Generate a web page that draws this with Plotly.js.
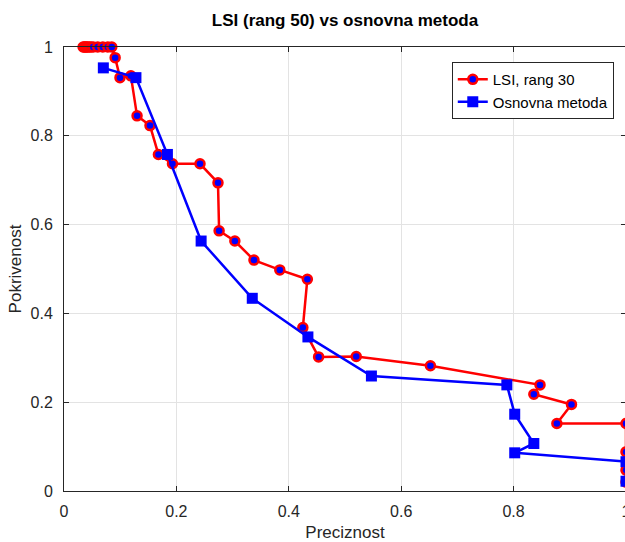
<!DOCTYPE html>
<html>
<head>
<meta charset="utf-8">
<script src="https://cdn.plot.ly/plotly-3.0.1.min.js"></script>
<style>
html, body { margin: 0; padding: 0; overflow: hidden; background: #fff; }
#chart { width: 640px; height: 542px; }
</style>
</head>
<body>
<div id="chart"></div>
<script>
// LSI, rang 30 series
const lsiX = [0.034, 0.036, 0.038, 0.040, 0.042, 0.045, 0.048, 0.052, 0.060, 0.069, 0.078, 0.085, 0.091, 0.0996, 0.119, 0.130, 0.153, 0.168, 0.193, 0.242, 0.274, 0.276, 0.304, 0.338, 0.384, 0.433, 0.425, 0.453, 0.520, 0.652, 0.847, 0.836, 0.903, 0.877, 1.0, 1.0, 1.0, 1.0];
const lsiY = [1, 1, 1, 1, 1, 1, 1, 1, 1, 1, 1, 1, 0.976, 0.931, 0.935, 0.845, 0.823, 0.758, 0.737, 0.737, 0.694, 0.586, 0.563, 0.520, 0.498, 0.477, 0.368, 0.302, 0.303, 0.282, 0.239, 0.218, 0.195, 0.152, 0.152, 0.088, 0.047, 0.020];
// Osnovna metoda series
const baseX = [0.070, 0.128, 0.184, 0.244, 0.335, 0.434, 0.547, 0.788, 0.802, 0.836, 0.802, 1.0, 1.0];
const baseY = [0.953, 0.931, 0.758, 0.563, 0.434, 0.347, 0.259, 0.239, 0.173, 0.107, 0.086, 0.066, 0.022];
// ticks
const tickVals = [0, 0.2, 0.4, 0.6, 0.8, 1];
const tickText = ['0', '0.2', '0.4', '0.6', '0.8', '1'];

const traces = [
  {
    x: lsiX, y: lsiY, name: 'LSI, rang 30', type: 'scatter', mode: 'lines+markers',
    cliponaxis: false,
    line: { color: '#ff0000', width: 2.5 },
    marker: { symbol: 'circle', size: 9, color: '#0000ff', line: { color: '#ff0000', width: 2.5 } }
  },
  {
    x: baseX, y: baseY, name: 'Osnovna metoda', type: 'scatter', mode: 'lines+markers',
    cliponaxis: false,
    line: { color: '#0000ff', width: 2.5 },
    marker: { symbol: 'square', size: 11, color: '#0000ff' }
  }
];

const FONT = 'Liberation Sans, Arial, sans-serif';
const axisCommon = {
  tickvals: tickVals, ticktext: tickText,
  showgrid: true, gridcolor: '#e3e3e3', gridwidth: 1,
  zeroline: false,
  showline: true, linecolor: '#262626', linewidth: 1, mirror: 'ticks',
  ticks: 'inside', ticklen: 5, tickcolor: '#262626',
  tickfont: { family: FONT, size: 16, color: '#262626' }
};

const layout = {
  width: 640, height: 542,
  margin: { l: 64, r: 14, t: 47, b: 51 },
  paper_bgcolor: '#ffffff', plot_bgcolor: '#ffffff',
  font: { family: FONT, color: '#262626' },
  title: {
    text: '<b>LSI (rang 50) vs osnovna metoda</b>',
    font: { family: FONT, size: 17, color: '#000000' },
    xref: 'paper', x: 0.5, xanchor: 'center',
    yref: 'container', y: 1 - 20 / 542, yanchor: 'middle'
  },
  xaxis: Object.assign({}, axisCommon, {
    range: [0, 1],
    ticklabelstandoff: 6,
    title: { text: 'Preciznost', font: { family: FONT, size: 17, color: '#262626' }, standoff: 7 }
  }),
  yaxis: Object.assign({}, axisCommon, {
    range: [0, 1],
    ticklabelstandoff: 7,
    title: { text: 'Pokrivenost', font: { family: FONT, size: 17, color: '#262626' }, standoff: 4 }
  }),
  showlegend: true,
  legend: {
    x: 0.690, y: 0.966, xanchor: 'left', yanchor: 'top',
    bgcolor: '#ffffff', bordercolor: '#262626', borderwidth: 1,
    font: { family: FONT, size: 15, color: '#000000' },
    tracegroupgap: 0
  }
};

Plotly.newPlot('chart', traces, layout, { displayModeBar: false, staticPlot: true });
</script>
</body>
</html>
